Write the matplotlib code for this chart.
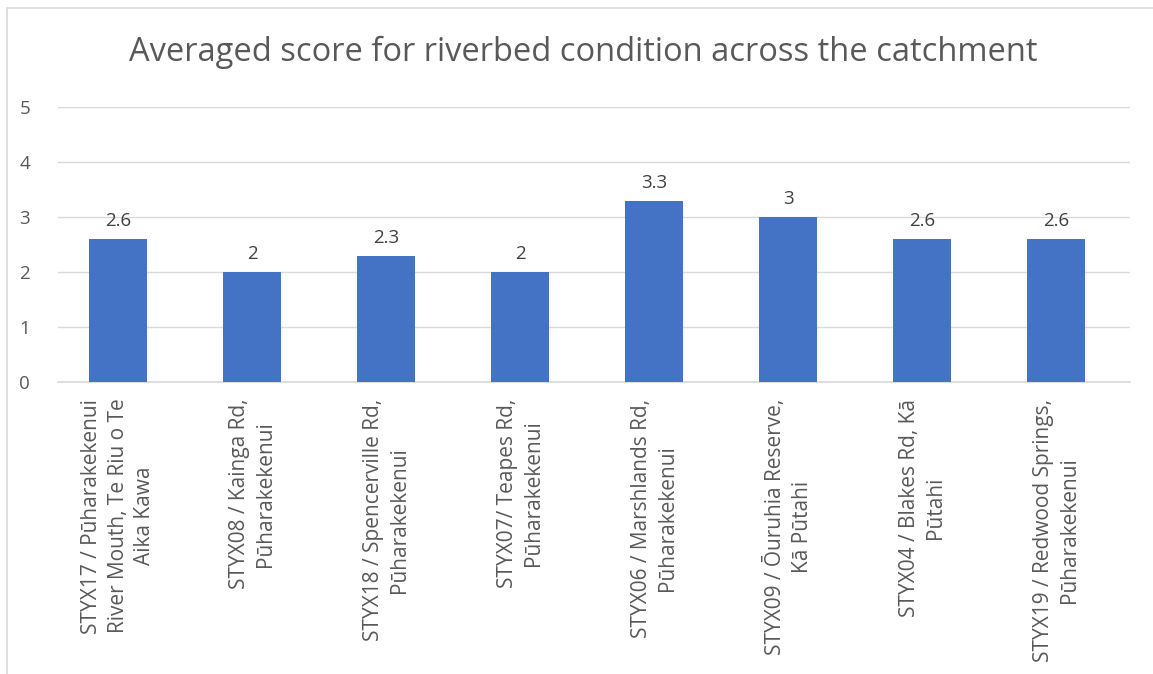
import matplotlib.pyplot as plt
from matplotlib.patches import Rectangle

sites = [
    "STYX17 / Pūharakekenui\nRiver Mouth, Te Riu o Te\nAika Kawa",
    "STYX08 / Kainga Rd,\nPūharakekenui",
    "STYX18 / Spencerville Rd,\nPūharakekenui",
    "STYX07/ Teapes Rd,\nPūharakekenui",
    "STYX06 / Marshlands Rd,\nPūharakekenui",
    "STYX09 / Ōuruhia Reserve,\nKā Pūtahi",
    "STYX04 / Blakes Rd, Kā\nPūtahi",
    "STYX19 / Redwood Springs,\nPūharakekenui",
]
scores = [2.6, 2, 2.3, 2, 3.3, 3, 2.6, 2.6]
score_labels = ["2.6", "2", "2.3", "2", "3.3", "3", "2.6", "2.6"]
yticks = [0, 1, 2, 3, 4, 5]

plt.rcParams["font.family"] = ["Open Sans", "DejaVu Sans"]
text_color = "#595959"

W, H = 1153, 674
fig = plt.figure(figsize=(W / 100, H / 100), dpi=100)
fig.patches.append(Rectangle((7 / W, -0.1), 1.2, (H - 8) / H + 0.1, transform=fig.transFigure,
                             fill=False, edgecolor="#d9d9d9", linewidth=1.2))

left, right, bottom, top = 58, 1130, 382, 107
ax = fig.add_axes([left / W, 1 - bottom / H, (right - left) / W, (bottom - top) / H])
x = range(len(scores))
ax.bar(x, scores, width=0.43, color="#4472C4", zorder=3)
for i, (v, s) in enumerate(zip(scores, score_labels)):
    ax.text(i, v + 0.16, s, ha="center", va="bottom", fontsize=13.5, color="#404040")

ax.set_xlim(-0.45, 7.55)
ax.set_ylim(0, 5)
ax.set_yticks(yticks)
ax.yaxis.grid(True, color="#d9d9d9", linewidth=1)
ax.set_axisbelow(True)
for side in ["top", "right", "left"]:
    ax.spines[side].set_visible(False)
ax.spines["bottom"].set_color("#d9d9d9")
ax.spines["bottom"].set_linewidth(1.2)
ax.tick_params(axis="both", length=0, labelsize=13.5, labelcolor=text_color)
ax.tick_params(axis="y", pad=20)
ax.set_xticks(list(x))
ax.set_xticklabels(sites, rotation=90, ha="center", va="top", multialignment="center",
                   fontsize=15, linespacing=1.35)
ax.tick_params(axis="x", pad=12)

fig.text(583 / W, 1 - 52 / H, "Averaged score for riverbed condition across the catchment",
         ha="center", va="center", fontsize=23.5, color=text_color)

fig.savefig("out.png", dpi=100)
